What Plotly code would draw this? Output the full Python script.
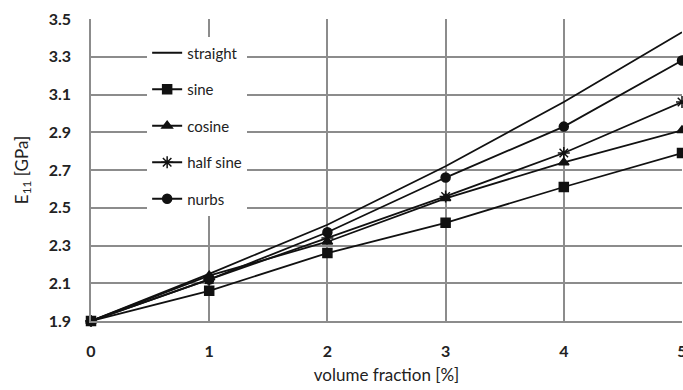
import plotly.graph_objects as go

x_vals = [0, 1, 2, 3, 4, 5]
straight = [1.90, 2.15, 2.41, 2.72, 3.06, 3.43]
sine = [1.90, 2.06, 2.26, 2.42, 2.61, 2.79]
cosine = [1.90, 2.14, 2.32, 2.55, 2.74, 2.91]
half_sine = [1.90, 2.12, 2.34, 2.56, 2.79, 3.06]
nurbs = [1.90, 2.12, 2.37, 2.66, 2.93, 3.28]

series = [
    ("straight", straight, None),
    ("sine", sine, "square"),
    ("cosine", cosine, "triangle-up"),
    ("half sine", half_sine, "asterisk-open"),
    ("nurbs", nurbs, "circle"),
]

fig = go.Figure()
for i, (name, ys, sym) in enumerate(series):
    if sym is None:
        mode = "lines"
        marker = None
    else:
        mode = "lines+markers"
        marker = dict(symbol=sym, size=9 if sym != "asterisk-open" else 10,
                      color="#111111",
                      line=dict(color="#111111", width=1.5))
    fig.add_trace(go.Scatter(
        x=x_vals, y=ys, name=name, mode=mode,
        line=dict(color="#111111", width=1.8),
        marker=marker, legendgroup=f"g{i}", cliponaxis=False,
    ))

grid = "#8c8c8c"
fig.update_layout(
    width=683, height=390,
    margin=dict(l=91, r=1, t=19, b=69),
    paper_bgcolor="white", plot_bgcolor="white",
    font=dict(family="Lato", color="#222222"),
    showlegend=True,
    legend=dict(
        x=0.095, y=0.942, xanchor="left", yanchor="top",
        bgcolor="white", borderwidth=0,
        font=dict(size=15, color="#222222"),
        tracegroupgap=14, itemwidth=30,
    ),
    xaxis=dict(
        range=[0, 5], dtick=1, tick0=0, automargin=False,
        showgrid=True, gridcolor=grid, gridwidth=1.5,
        showline=True, linecolor=grid, linewidth=1.5,
        zeroline=False, ticks="", ticklabelstandoff=15,
        ticklabeloverflow="allow",
        tickfont=dict(size=16, weight="bold", color="#222222"),
        title=dict(text="volume fraction [%]", font=dict(size=17), standoff=10),
    ),
    yaxis=dict(
        range=[1.9, 3.5], dtick=0.2, tick0=1.9, tickformat=".1f",
        automargin=False,
        showgrid=True, gridcolor=grid, gridwidth=1.5,
        showline=True, linecolor=grid, linewidth=1.5,
        zeroline=False, ticks="", ticklabelstandoff=15,
        ticklabeloverflow="allow",
        tickfont=dict(size=16, weight="bold", color="#222222"),
        title=dict(text="E<sub>11</sub> [GPa]", font=dict(size=17), standoff=16),
    ),
)

fig.write_html(
    "out.html",
    config={"displayModeBar": False},
    post_script="document.body.style.margin='0';document.body.style.overflow='hidden';",
)
